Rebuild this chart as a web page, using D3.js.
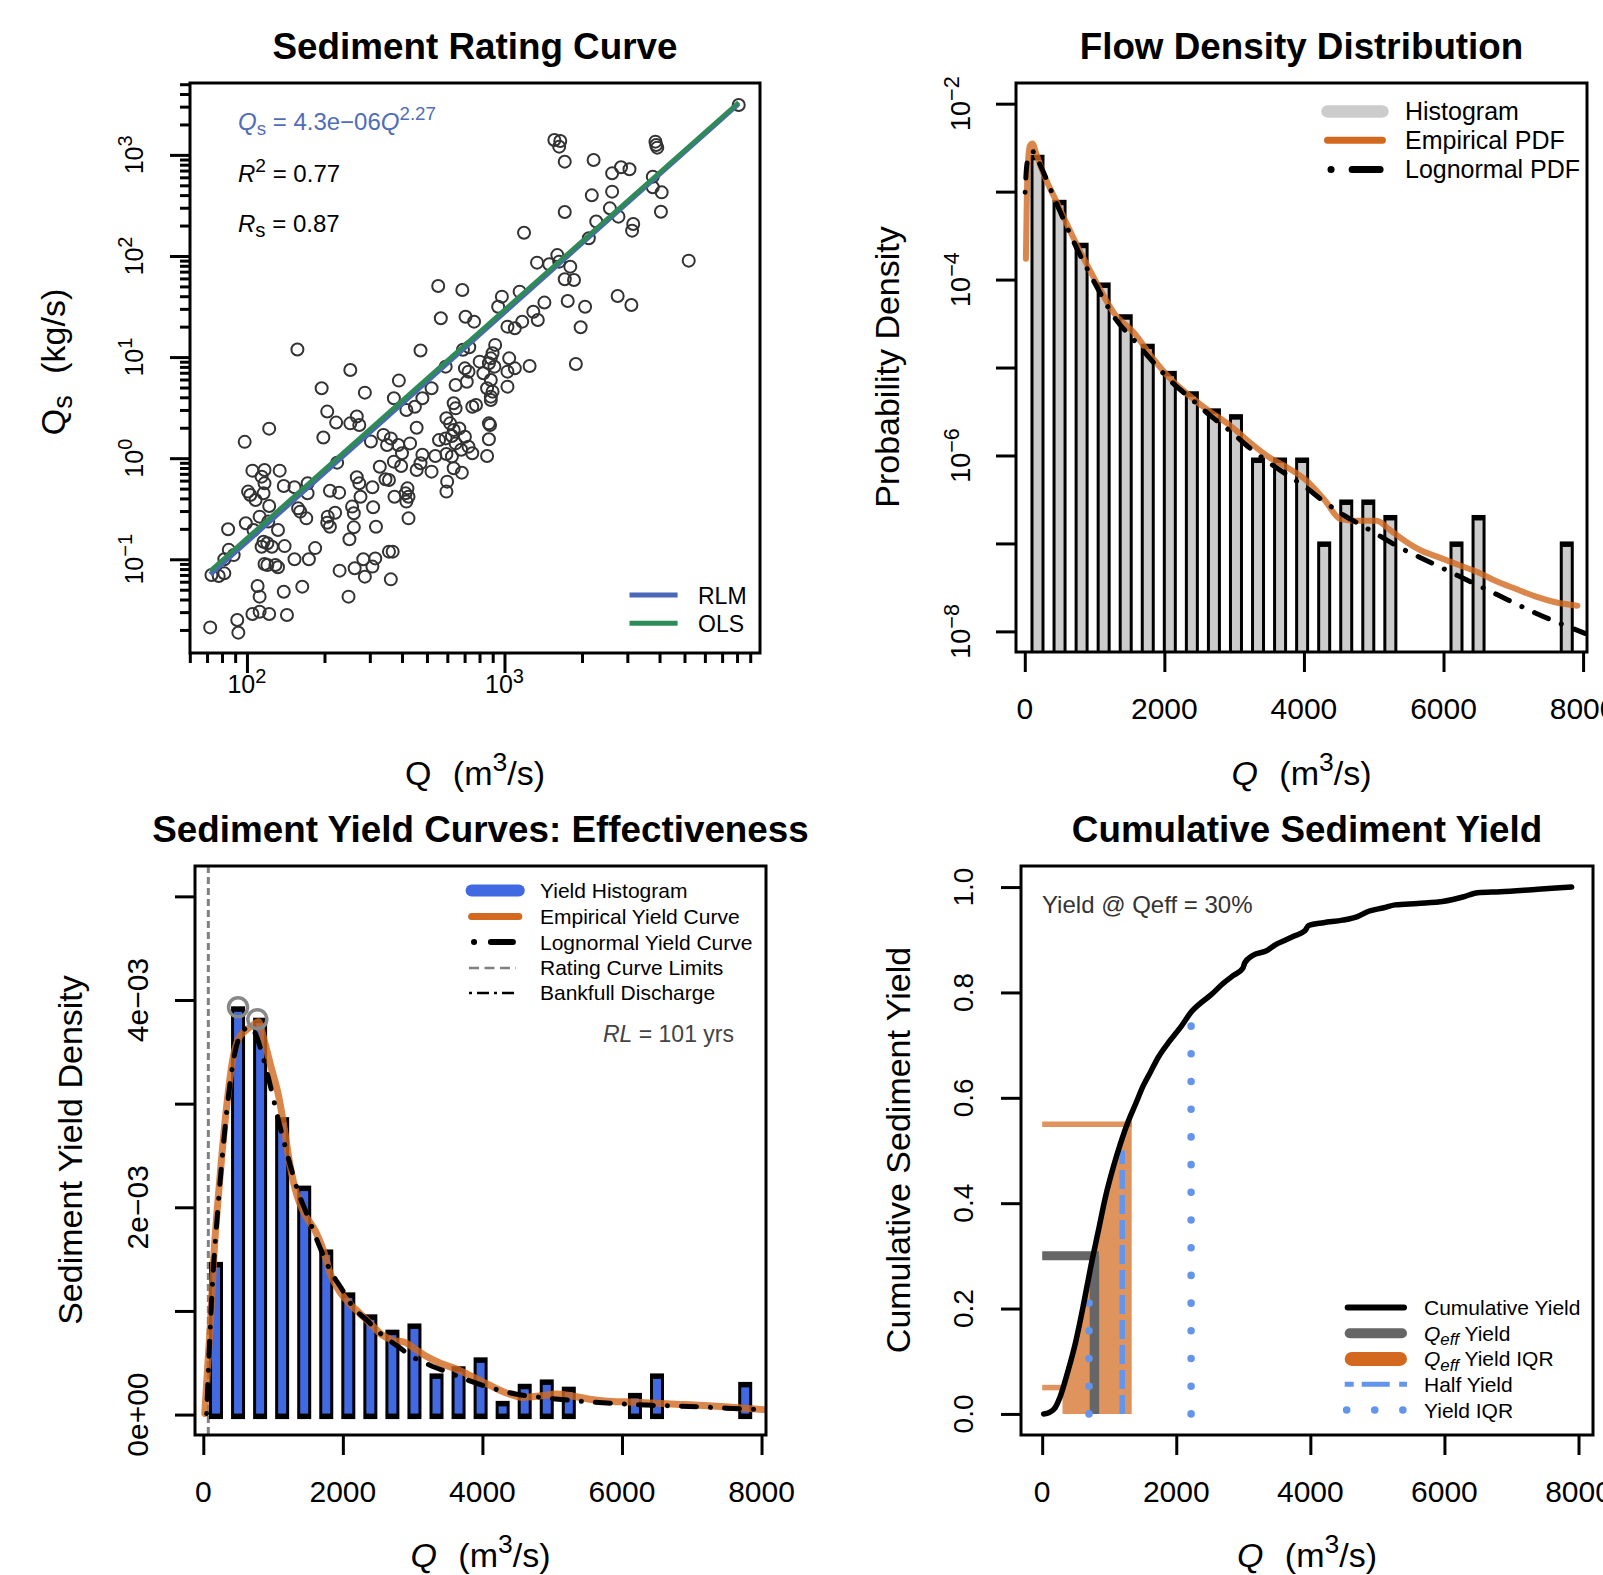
<!DOCTYPE html>
<html>
<head>
<meta charset="utf-8">
<script src="https://cdn.jsdelivr.net/npm/d3@7"></script>
<style>
  body { margin: 0; background: #fff; }
  svg { display: block; }
  svg text { font-family: "Liberation Sans", Arial, Helvetica, sans-serif; }
</style>
</head>
<body>
<svg id="chart" width="1603" height="1575"></svg>
<script>
// ---- rating curve observations [Q (m3/s), Qs (kg/s)] ----
const ratingObs = [
  [8120,3117],[1562,1404],[1647,1373],[1631,1206],[1714,857],[2219,890],[3856,1352],[3882,1253],[3920,1179],[2618,657],
  [2835,754],[3058,720],[3767,609],[3767,478],[4078,426],[2183,398],[2618,433],[1714,272],[2566,296],[2770,245],
  [4051,274],[2271,219],[3162,207],[3130,178],[1191,170],[2126,150],[5193,89.9],[1338,85.9],[1492,82.7],[1604,102],
  [1631,87.9],[1801,78.4],[1714,58.8],[1862,57.9],[553,50.5],[686,46.1],[977,39.6],[1145,44.4],[945,31.5],[1429,34.6],
  [1760,35.9],[2056,31.5],[2751,40.2],[3110,32.8],[566,24.2],[706,25.1],[762,22.4],[1294,28.1],[1347,23.3],[1027,20.0],
  [1097,19.3],[1172,22.4],[1976,19.7],
  [157,11.9],[472,11.6],[690,11.8],[730,12.5],[920,13.2],[899,10.9],[885,9.72],[1043,9.72],[1252,8.17],[1893,8.55],
  [252,7.46],[389,5.85],[591,8.04],[702,7.74],[725,7.18],[801,9.01],[870,8.68],[914,8.04],[1027,7.18],[1097,7.74],
  [1027,5.10],[646,5.30],[714,5.71],[828,6.91],[885,5.93],[856,4.91],[899,4.55],[885,4.06],[885,3.76],[195,4.91],
  [287,4.45],[372,3.91],[521,4.91],[480,3.91],[416,3.00],[449,3.23],[205,2.89],[222,2.25],[252,2.21],[267,2.58],
  [273,2.13],[122,1.96],[98.0,1.45],[198,1.60],[303,1.46],[339,1.70],[362,1.57],[350,1.35],[387,1.35],[430,1.40],
  [456,2.00],[400,1.12],[595,2.48],[635,3.49],[646,3.11],[750,3.23],[775,3.36],[615,2.21],[635,1.90],[668,1.97],
  [557,1.51],[591,1.57],[625,1.66],[646,1.40],[702,1.63],[725,1.30],[679,1.21],[750,1.12],[870,2.21],[879,2.13],
  [870,1.54],[856,1.05],[480,1.08],[539,1.05],[595,1.10],[625,1.04],[472,0.890],[456,0.764],[521,0.736],[635,0.794],
  [683,0.719],[224,0.903],[328,0.824],[372,0.924],[397,0.837],[105,0.753],[117,0.764],[134,0.753],[114,0.657],[117,0.564],
  [139,0.531],[153,0.515],[172,0.564],[116,0.449],[101,0.467],[103,0.433],[108,0.386],[122,0.337],[172,0.449],[158,0.319],
  [161,0.296],[170,0.254],[210,0.477],[228,0.456],[267,0.647],[273,0.564],[307,0.515],[276,0.416],[345,0.618],[356,0.609],
  [374,0.416],[413,0.449],[420,0.503],[424,0.416],[416,0.372],[599,0.586],[595,0.467],[256,0.332],[260,0.285],[309,0.327],
  [206,0.264],[220,0.289],[205,0.230],[210,0.210],[317,0.210],[260,0.207],[250,0.158],[424,0.254],[84.5,0.198],[99.0,0.227],
  [106,0.195],[112,0.264],[121,0.236],[132,0.195],[116,0.149],[120,0.144],[114,0.133],[125,0.133],[140,0.135],[184,0.129],
  [81.7,0.0999],[85.0,0.124],[88.8,0.110],[153,0.0999],[174,0.0999],[117,0.0898],[120,0.0878],[129,0.0878],[132,0.0833],[229,0.0772],
  [262,0.0814],[283,0.0999],[287,0.0673],[307,0.0846],[315,0.102],[356,0.119],[368,0.119],[362,0.0633],[72.8,0.0699],[77.7,0.0684],
  [81.7,0.0726],[110,0.0544],[112,0.0427],[139,0.0478],[164,0.0536],[248,0.0427],[72.0,0.0212],[91.7,0.0251],[92.6,0.0188],[105,0.0288],
  [112,0.0303],[122,0.0288],[143,0.0281]
];
const rlmCoef = [4.3e-6, 2.27];   // Qs = a * Q^b
const olsCoef = [4.92e-6, 2.258];
const fitStats = ["4.3e\u221206", "2.27", "0.77", "0.87"];

// ---- histogram bins shared by flow and yield panels ----
const binCenters = [182, 498, 814, 1130, 1446, 1762, 2078, 2394, 2710, 3026, 3342, 3658, 3974,
                    4290, 4606, 4922, 5238, 5554, 5870, 6186, 6502, 6818, 7134, 7450, 7766];
const flowDensity = [2.49e-3, 7.66e-4, 2.49e-4, 8.8e-5, 3.83e-5, 1.77e-5, 8.7e-6, 5.1e-6, 3.26e-6, 2.8e-6,
                     9.0e-7, 9.0e-7, 9.0e-7, 1.0e-7, 3.0e-7, 3.0e-7, 2.0e-7, 0, 0, 1.0e-7, 2.0e-7, 0, 0, 0, 1.0e-7];
const yieldDensity = [1.454e-3, 3.92e-3, 3.81e-3, 2.85e-3, 2.19e-3, 1.574e-3, 1.16e-3, 0.948e-3, 0.80e-3, 0.86e-3,
                      0.378e-3, 0.447e-3, 0.533e-3, 0.113e-3, 0.278e-3, 0.32e-3, 0.25e-3, 0, 0, 0.19e-3, 0.378e-3, 0, 0, 0, 0.296e-3];

// ---- flow pdf curves ----
const flowEmpQ = [16, 38, 71, 110, 164, 247, 466, 740, 1014, 1288, 1562, 1836, 2110, 2384, 2658, 2932, 3205, 3479,
                  3753, 4027, 4301, 4521, 4740, 5041, 5233, 5452, 5671, 5945, 6219, 6493, 6767, 7041, 7315, 7589, 7918];
const flowEmpPdf = [1.73e-4, 1.60e-3, 3.29e-3, 3.52e-3, 2.71e-3, 1.76e-3, 7.36e-4, 2.54e-4, 9.68e-5, 4.06e-5, 2.50e-5,
                    1.27e-5, 7.13e-6, 4.61e-6, 3.13e-6, 2.23e-6, 1.45e-6, 9.82e-7, 7.36e-7, 5.25e-7, 3.08e-7, 1.90e-7,
                    1.81e-7, 1.81e-7, 1.42e-7, 1.06e-7, 8.36e-8, 6.89e-8, 5.69e-8, 4.69e-8, 3.68e-8, 3.03e-8, 2.50e-8,
                    2.16e-8, 1.96e-8];
const flowLnQ = [5, 27, 71, 126, 192, 466, 740, 1014, 1288, 1562, 1836, 2110, 2384, 2658, 2932, 3205, 3479, 3753,
                 4027, 4301, 4575, 4849, 5123, 5397, 5671, 6219, 6767, 7315, 8027];
const flowLnPdf = [9.84e-4, 1.94e-3, 2.71e-3, 2.84e-3, 2.24e-3, 7.01e-4, 2.31e-4, 8.79e-5, 3.68e-5, 2.06e-5, 1.16e-5,
                   6.79e-6, 4.40e-6, 2.84e-6, 1.93e-6, 1.25e-6, 8.51e-7, 6.07e-7, 4.33e-7, 2.94e-7, 2.09e-7, 1.57e-7,
                   1.17e-7, 8.77e-8, 6.89e-8, 4.26e-8, 2.62e-8, 1.62e-8, 9.51e-9];

// ---- sediment yield curves ----
const yieldEmpQ = [21, 101, 154, 233, 339, 419, 498, 604, 710, 790, 869, 975, 1081, 1161, 1240, 1346, 1453, 1612,
                   1718, 1824, 1930, 2089, 2248, 2407, 2566, 2725, 2884, 3043, 3202, 3415, 3627, 3839, 4051, 4317,
                   4582, 4847, 5059, 5271, 5536, 5748, 6172, 6702, 7232, 7763, 8081];
const yieldEmp = [0.00001, 0.000869, 0.001557, 0.002244, 0.0030, 0.003412, 0.003619, 0.003704, 0.003756, 0.00379,
                  0.003619, 0.003344, 0.003069, 0.002759, 0.002416, 0.002107, 0.001935, 0.001763, 0.001591, 0.001351,
                  0.001213, 0.001076, 0.000973, 0.000869, 0.000766, 0.000715, 0.000698, 0.000629, 0.000560, 0.000491,
                  0.000440, 0.000371, 0.000302, 0.000216, 0.000165, 0.000182, 0.000199, 0.000182, 0.000148, 0.000131,
                  0.000120, 0.000103, 0.000086, 0.000062, 0.000045];
const yieldLnQ = [48, 127, 207, 286, 366, 445, 551, 657, 737, 843, 949, 1081, 1214, 1346, 1505, 1664, 1824, 1983,
                  2142, 2354, 2566, 2778, 2990, 3255, 3520, 3839, 4157, 4475, 4846, 5376, 5906, 6437, 6967, 7497, 8081];
const yieldLn = [0.00001, 0.001213, 0.001969, 0.002588, 0.003103, 0.003464, 0.003687, 0.003739, 0.003687, 0.003481,
                 0.003206, 0.002828, 0.002485, 0.002175, 0.001900, 0.001625, 0.001385, 0.001213, 0.001041, 0.000904,
                 0.000766, 0.000663, 0.000560, 0.000474, 0.000405, 0.000320, 0.000251, 0.000199, 0.000165, 0.000131,
                 0.000107, 0.000089, 0.000079, 0.000062, 0.000045];
const peakQ = [498, 774];
const peakYield = [3.93e-3, 3.815e-3];
const ratingLimits = [72, 8120];
const returnLevel = "101";

// ---- cumulative sediment yield ----
const cumQ = [22, 106, 191, 275, 387, 499, 611, 723, 835, 947, 1059, 1172, 1284, 1396, 1508, 1620, 1732, 1900, 2068,
              2237, 2349, 2517, 2685, 2853, 2993, 3021, 3133, 3358, 3470, 3638, 3750, 3918, 3974, 4198, 4479, 4703,
              4871, 5095, 5264, 5600, 5992, 6273, 6497, 6833, 7393, 7898];
const cumYield = [0, 0.0027, 0.0115, 0.0351, 0.0824, 0.1365, 0.2041, 0.2784, 0.3459, 0.4135, 0.4676, 0.5149, 0.5554,
                  0.5892, 0.6230, 0.6500, 0.6770, 0.7074, 0.7345, 0.7649, 0.7784, 0.7953, 0.8155, 0.8324, 0.8459,
                  0.8561, 0.8696, 0.8797, 0.8899, 0.9000, 0.9068, 0.9169, 0.9270, 0.9324, 0.9372, 0.9439, 0.9541,
                  0.9608, 0.9662, 0.9689, 0.9730, 0.9811, 0.9892, 0.9912, 0.9959, 1.0];
const qeff = 779;
const qeffYield = 0.30;
const qeffIqrQ = [303, 1335];
const qeffIqrYield = [0.05, 0.55];
const halfYieldQ = 1194;
const yieldIqrQ = [698, 2221];
const yieldIqrLevel = [0.25, 0.75];

// ================= drawing =================
const svg = d3.select("#chart");
svg.append("rect").attr("width", 1603).attr("height", 1575).attr("fill", "#fff");
const defs = svg.append("defs");

const ORANGE = "#D2691E", BLUE = "#4169E1", CBLUE = "#6495ED";

function rich(t, parts, fs, scale) {
  let shift = 0;
  parts.forEach(p => {
    const target = p.sup ? -0.42 * fs : p.sub ? 0.22 * fs : 0;
    const ts = t.append("tspan").text(p.t).attr("dy", target - shift);
    shift = target;
    if (p.sup || p.sub) ts.attr("font-size", scale * fs);
    if (p.italic) ts.attr("font-style", "italic");
    if (p.dx) ts.attr("dx", p.dx);
  });
}
function label(g, x, y, parts, fs, opts = {}) {
  const t = g.append("text").attr("x", x).attr("y", y).attr("font-size", fs)
    .attr("text-anchor", opts.anchor || "middle").attr("fill", opts.fill || "#000");
  if (opts.rotate) t.attr("transform", `rotate(-90,${x},${y})`);
  if (opts.bold) t.attr("font-weight", "bold");
  if (typeof parts === "string") parts = [{ t: parts }];
  rich(t, parts, fs, opts.scale || 0.72);
  return t;
}
function clipFor(id, b) {
  defs.append("clipPath").attr("id", id).append("rect")
    .attr("x", b.left).attr("y", b.top).attr("width", b.right - b.left).attr("height", b.bottom - b.top);
  return svg.append("g").attr("clip-path", `url(#${id})`);
}
function frame(b) {
  svg.append("rect").attr("x", b.left).attr("y", b.top).attr("width", b.right - b.left)
    .attr("height", b.bottom - b.top).attr("fill", "none").attr("stroke", "#000").attr("stroke-width", 3);
}
function styleAxis(a) {
  a.select(".domain").remove();
  a.selectAll("line").attr("stroke", "#000").attr("stroke-width", 3);
}
function xTicks(x, vals, y0, len) {
  svg.append("g").attr("transform", `translate(0,${y0})`)
    .call(d3.axisBottom(x).tickValues(vals).tickSize(len).tickFormat(""))
    .call(styleAxis);
}
function yTicks(y, vals, x0, len) {
  svg.append("g").attr("transform", `translate(${x0},0)`)
    .call(d3.axisLeft(y).tickValues(vals).tickSize(len).tickFormat(""))
    .call(styleAxis);
}
function legLine(x1, x2, y, stroke, w, dash, cap) {
  svg.append("line").attr("x1", x1).attr("x2", x2).attr("y1", y).attr("y2", y)
    .attr("stroke", stroke).attr("stroke-width", w)
    .attr("stroke-linecap", cap || "round").attr("stroke-dasharray", dash || null);
}
const qLab = italic => [{ t: "Q", italic: italic }, { t: " (m", dx: 12 }, { t: "3", sup: true }, { t: "/s)" }];
const TITLE = 36.8, AXT = 34, TICK = 30;

// ---------- panel 1: Sediment Rating Curve ----------
const b1 = { left: 190, right: 760, top: 83, bottom: 653 };
const x1 = d3.scaleLog().domain([60.1, 9822]).range([b1.left, b1.right]);
const y1 = d3.scaleLog().domain([0.01183, 5141]).range([b1.bottom, b1.top]);
const g1 = clipFor("c1", b1);

g1.selectAll("circle").data(ratingObs).join("circle")
  .attr("cx", d => x1(d[0])).attr("cy", d => y1(d[1])).attr("r", 6)
  .attr("fill", "none").attr("stroke", "#333").attr("stroke-width", 2);

const qRange = d3.extent(ratingObs, d => d[0]);
[[rlmCoef, "#4B68B8", 5], [olsCoef, "#2E8B57", 4.5]].forEach(([c, col, w]) => {
  g1.append("path")
    .attr("d", d3.line().x(d => x1(d)).y(d => y1(c[0] * Math.pow(d, c[1])))(qRange))
    .attr("stroke", col).attr("stroke-width", w).attr("fill", "none");
});

xTicks(x1, [100, 1000], b1.bottom, 20);
xTicks(x1, [60, 70, 80, 90, 200, 300, 400, 500, 600, 700, 800, 900, 2000, 3000, 4000, 5000, 6000, 7000, 8000, 9000], b1.bottom, 10);
yTicks(y1, [0.1, 1, 10, 100, 1000], b1.left, 20);
const y1minor = [];
[0.01, 0.1, 1, 10, 100, 1000].forEach(dec => [2, 3, 4, 5, 6, 7, 8, 9].forEach(m => {
  const v = dec * m; if (v > 0.01183 && v < 5141) y1minor.push(v);
}));
yTicks(y1, y1minor, b1.left, 10);
frame(b1);

[[100, "2"], [1000, "3"]].forEach(([v, e]) =>
  label(svg, x1(v), 693, [{ t: "10" }, { t: e, sup: true }], 25, { scale: 0.8 }));
[[0.1, "\u22121"], [1, "0"], [10, "1"], [100, "2"], [1000, "3"]].forEach(([v, e]) =>
  label(svg, 143, y1(v), [{ t: "10" }, { t: e, sup: true }], 25, { rotate: true, scale: 0.8 }));

label(svg, 475, 59, "Sediment Rating Curve", TITLE, { bold: true });
label(svg, 475, 785, qLab(false), AXT, { scale: 0.78 });
label(svg, 65, 362, [{ t: "Q" }, { t: "s", sub: true }, { t: " (kg/s)", dx: 12 }], AXT, { rotate: true, scale: 0.8 });

label(svg, 238, 130, [{ t: "Q", italic: true }, { t: "s", sub: true }, { t: " = " + fitStats[0] }, { t: "Q", italic: true },
  { t: fitStats[1], sup: true }], 24, { anchor: "start", fill: "#4F6DB8", scale: 0.78 });
label(svg, 238, 182, [{ t: "R", italic: true }, { t: "2", sup: true }, { t: " = " + fitStats[2] }], 24, { anchor: "start", scale: 0.8 });
label(svg, 238, 232, [{ t: "R", italic: true }, { t: "s", sub: true }, { t: " = " + fitStats[3] }], 24, { anchor: "start", scale: 0.85 });

legLine(629.5, 677.6, 595, "#4B68B8", 5, null, "butt");
legLine(629.5, 677.6, 623.3, "#2E8B57", 5, null, "butt");
label(svg, 698, 603.5, "RLM", 23, { anchor: "start" });
label(svg, 698, 631.8, "OLS", 23, { anchor: "start" });

// ---------- panel 2: Flow Density Distribution ----------
const b2 = { left: 1016, right: 1587, top: 83, bottom: 652 };
const x2 = d3.scaleLinear().domain([-126, 8056]).range([b2.left, b2.right]);
const y2 = d3.scaleLog().domain([5.83e-9, 0.01718]).range([b2.bottom, b2.top]);
const g2 = clipFor("c2", b2);
const bars2 = binCenters.map((c, i) => [c, flowDensity[i]]).filter(d => d[1] > 0);
g2.selectAll("rect.o").data(bars2).join("rect").attr("class", "o")
  .attr("x", d => x2(d[0]) - 7).attr("width", 14)
  .attr("y", d => y2(d[1]) - 2).attr("height", d => b2.bottom + 5 - y2(d[1]))
  .attr("fill", "#000");
g2.selectAll("rect.i").data(bars2).join("rect").attr("class", "i")
  .attr("x", d => x2(d[0]) - 4).attr("width", 8)
  .attr("y", d => y2(d[1]) + 3.5).attr("height", d => b2.bottom + 5 - y2(d[1]))
  .attr("fill", "#CCCCCC");
const line2 = d3.line().x(d => x2(d[0])).y(d => y2(d[1])).curve(d3.curveMonotoneX);
g2.append("path").attr("d", line2(flowEmpQ.map((q, i) => [q, flowEmpPdf[i]])))
  .attr("fill", "none").attr("stroke", ORANGE).attr("stroke-opacity", 0.8).attr("stroke-width", 6)
  .attr("stroke-linecap", "round").attr("stroke-linejoin", "round");
g2.append("path").attr("d", line2(flowLnQ.map((q, i) => [q, flowLnPdf[i]])))
  .attr("fill", "none").attr("stroke", "#000").attr("stroke-width", 5)
  .attr("stroke-dasharray", "0.1,14,15,14").attr("stroke-linecap", "round");

xTicks(x2, [0, 2000, 4000, 6000, 8000], b2.bottom, 20);
yTicks(y2, [1e-2, 1e-3, 1e-4, 1e-5, 1e-6, 1e-7, 1e-8], b2.left, 20);
frame(b2);
[0, 2000, 4000, 6000, 8000].forEach(v => label(svg, x2(v), 719, String(v), TICK));
[[1e-2, "\u22122"], [1e-4, "\u22124"], [1e-6, "\u22126"], [1e-8, "\u22128"]].forEach(([v, e]) =>
  label(svg, 970, y2(v), [{ t: "10" }, { t: e, sup: true }], 27, { rotate: true, scale: 0.8 }));
label(svg, 1301.5, 59, "Flow Density Distribution", TITLE, { bold: true });
label(svg, 1301.5, 785, qLab(true), AXT, { scale: 0.78 });
label(svg, 899, 367, "Probability Density", AXT, { rotate: true });

legLine(1327.5, 1382.4, 111.4, "#CCCCCC", 12.5);
legLine(1327.5, 1382.4, 140.3, ORANGE, 7);
legLine(1331, 1382, 169.5, "#000", 7, "0.1,21,28,21");
label(svg, 1405, 120, "Histogram", 25, { anchor: "start" });
label(svg, 1405, 149, "Empirical PDF", 25, { anchor: "start" });
label(svg, 1405, 178, "Lognormal PDF", 25, { anchor: "start" });

// ---------- panel 3: Sediment Yield Curves ----------
const b3 = { left: 195, right: 766, top: 866, bottom: 1435 };
const x3 = d3.scaleLinear().domain([-119, 8064]).range([b3.left, b3.right]);
const y3 = d3.scaleLinear().domain([-0.000197, 0.005293]).range([b3.bottom, b3.top]);
const g3 = clipFor("c3", b3);
ratingLimits.forEach(q => g3.append("line").attr("x1", x3(q)).attr("x2", x3(q))
  .attr("y1", b3.top).attr("y2", b3.bottom).attr("stroke", "#808080").attr("stroke-width", 3)
  .attr("stroke-dasharray", "7,4"));
const bars3 = binCenters.map((c, i) => [c, yieldDensity[i]]).filter(d => d[1] > 0);
g3.selectAll("rect.o").data(bars3).join("rect").attr("class", "o")
  .attr("x", d => x3(d[0]) - 7).attr("width", 14)
  .attr("y", d => y3(d[1]) - 2).attr("height", d => y3(0) + 4.5 - (y3(d[1]) - 2))
  .attr("fill", "#000");
g3.selectAll("rect.i").data(bars3).join("rect").attr("class", "i")
  .attr("x", d => x3(d[0]) - 4).attr("width", 8)
  .attr("y", d => y3(d[1]) + 3.5).attr("height", d => Math.max(0, y3(0) - 1 - (y3(d[1]) + 3.5)))
  .attr("fill", BLUE);
const line3 = d3.line().x(d => x3(d[0])).y(d => y3(d[1])).curve(d3.curveMonotoneX);
g3.append("path").attr("d", line3(yieldEmpQ.map((q, i) => [q, yieldEmp[i]])))
  .attr("fill", "none").attr("stroke", ORANGE).attr("stroke-opacity", 0.8).attr("stroke-width", 7)
  .attr("stroke-linecap", "round").attr("stroke-linejoin", "round");
g3.append("path").attr("d", line3(yieldLnQ.map((q, i) => [q, yieldLn[i]])))
  .attr("fill", "none").attr("stroke", "#000").attr("stroke-width", 5)
  .attr("stroke-dasharray", "0.1,14,15,14").attr("stroke-linecap", "round");
g3.selectAll("circle").data(peakQ.map((q, i) => [q, peakYield[i]])).join("circle")
  .attr("cx", d => x3(d[0])).attr("cy", d => y3(d[1])).attr("r", 9.5)
  .attr("fill", "none").attr("stroke", "#888").attr("stroke-width", 3.5);

xTicks(x3, [0, 2000, 4000, 6000, 8000], b3.bottom, 20);
yTicks(y3, [0, 0.001, 0.002, 0.003, 0.004, 0.005], b3.left, 20);
frame(b3);
[0, 2000, 4000, 6000, 8000].forEach(v => label(svg, x3(v), 1502, String(v), TICK));
[[0, "0e+00"], [0.002, "2e\u221203"], [0.004, "4e\u221203"]].forEach(([v, s]) =>
  label(svg, 148, y3(v), s, 30, { rotate: true }));
label(svg, 480.5, 842, "Sediment Yield Curves: Effectiveness", TITLE, { bold: true });
label(svg, 480.5, 1567, qLab(true), AXT, { scale: 0.78 });
label(svg, 82, 1150, "Sediment Yield Density", AXT, { rotate: true });

const leg3 = [890.4, 916.4, 942.1, 967.9, 992.9];
legLine(471.6, 518.8, leg3[0], BLUE, 12);
legLine(471.6, 518.8, leg3[1], ORANGE, 7);
legLine(474, 516, leg3[2], "#000", 6, "0.1,16.8,22,16.8");
legLine(469, 516, leg3[3], "#808080", 2.5, "10,5.5", "butt");
legLine(469, 519, leg3[4], "#000", 2.5, "3,5,12,5", "butt");
["Yield Histogram", "Empirical Yield Curve", "Lognormal Yield Curve", "Rating Curve Limits", "Bankfull Discharge"]
  .forEach((s, i) => label(svg, 540, leg3[i] + 7.5, s, 21, { anchor: "start" }));
label(svg, 734, 1042, [{ t: "RL", italic: true }, { t: " = " + returnLevel + " yrs" }], 23, { anchor: "end", fill: "#444" });

// ---------- panel 4: Cumulative Sediment Yield ----------
const b4 = { left: 1021, right: 1593, top: 866, bottom: 1435 };
const x4 = d3.scaleLinear().domain([-316, 8216]).range([b4.left, b4.right]);
const y4 = d3.scaleLinear().domain([-0.04, 1.04]).range([b4.bottom, b4.top]);
const g4 = clipFor("c4", b4);
const cumPts = cumQ.map((q, i) => [q, cumYield[i]]);
const bis = d3.bisector(d => d[0]).left;
function cumAt(q) {
  const i = Math.max(1, Math.min(cumPts.length - 1, bis(cumPts, q)));
  const a = cumPts[i - 1], b = cumPts[i];
  return a[1] + (b[1] - a[1]) * (q - a[0]) / (b[0] - a[0]);
}
const iqrPts = [[qeffIqrQ[0], cumAt(qeffIqrQ[0])]]
  .concat(cumPts.filter(d => d[0] > qeffIqrQ[0] && d[0] < qeffIqrQ[1]))
  .concat([[qeffIqrQ[1], cumAt(qeffIqrQ[1])]]);
g4.append("path").attr("d", d3.area().x(d => x4(d[0])).y0(y4(0)).y1(d => y4(d[1]))(iqrPts))
  .attr("fill", ORANGE).attr("fill-opacity", 0.72);
qeffIqrYield.forEach((yv, i) => g4.append("line")
  .attr("x1", x4(0)).attr("x2", x4(qeffIqrQ[i])).attr("y1", y4(yv)).attr("y2", y4(yv))
  .attr("stroke", ORANGE).attr("stroke-opacity", 0.72).attr("stroke-width", 5.5));
g4.append("line").attr("x1", x4(0)).attr("x2", x4(qeff) + 4.5).attr("y1", y4(qeffYield)).attr("y2", y4(qeffYield))
  .attr("stroke", "#666").attr("stroke-width", 9);
g4.append("line").attr("x1", x4(qeff)).attr("x2", x4(qeff)).attr("y1", y4(qeffYield)).attr("y2", y4(0))
  .attr("stroke", "#666").attr("stroke-width", 9.5);
g4.append("line").attr("x1", x4(halfYieldQ)).attr("x2", x4(halfYieldQ)).attr("y1", y4(0)).attr("y2", y4(0.5))
  .attr("stroke", CBLUE).attr("stroke-width", 5.5).attr("stroke-dasharray", "19,6");
yieldIqrQ.forEach((q, i) => g4.append("line").attr("x1", x4(q)).attr("x2", x4(q))
  .attr("y1", y4(0)).attr("y2", y4(yieldIqrLevel[i]))
  .attr("stroke", CBLUE).attr("stroke-width", 7.5).attr("stroke-linecap", "round").attr("stroke-dasharray", "0.1,27.6"));
g4.append("path").attr("d", d3.line().x(d => x4(d[0])).y(d => y4(d[1])).curve(d3.curveMonotoneX)(cumPts))
  .attr("fill", "none").attr("stroke", "#000").attr("stroke-width", 5.5)
  .attr("stroke-linecap", "round").attr("stroke-linejoin", "round");

xTicks(x4, [0, 2000, 4000, 6000, 8000], b4.bottom, 20);
yTicks(y4, [0, 0.2, 0.4, 0.6, 0.8, 1.0], b4.left, 20);
frame(b4);
[0, 2000, 4000, 6000, 8000].forEach(v => label(svg, x4(v), 1502, String(v), TICK));
[0, 0.2, 0.4, 0.6, 0.8, 1.0].forEach(v => label(svg, 973, y4(v), v.toFixed(1), 28, { rotate: true }));
label(svg, 1307, 842, "Cumulative Sediment Yield", TITLE, { bold: true });
label(svg, 1307, 1567, qLab(true), AXT, { scale: 0.78 });
label(svg, 910, 1150, "Cumulative Sediment Yield", AXT, { rotate: true });
label(svg, 1042, 913, "Yield @ Qeff = " + Math.round(qeffYield * 100) + "%", 24, { anchor: "start", fill: "#333" });

const leg4 = [1307.5, 1333.2, 1358.9, 1384.3, 1410];
legLine(1347.7, 1404, leg4[0], "#000", 6);
legLine(1349.7, 1402, leg4[1], "#666", 10);
legLine(1351.7, 1400, leg4[2], ORANGE, 14);
legLine(1344.7, 1407, leg4[3], CBLUE, 5, "9,8,28,9.5,8", "butt");
legLine(1346.6, 1404, leg4[4], CBLUE, 7.5, "0.1,28");
label(svg, 1424, leg4[0] + 7.5, "Cumulative Yield", 21, { anchor: "start" });
label(svg, 1424, leg4[1] + 7.5, [{ t: "Q", italic: true }, { t: "eff", sub: true, italic: true }, { t: " Yield" }], 21, { anchor: "start", scale: 0.8 });
label(svg, 1424, leg4[2] + 7.5, [{ t: "Q", italic: true }, { t: "eff", sub: true, italic: true }, { t: " Yield IQR" }], 21, { anchor: "start", scale: 0.8 });
label(svg, 1424, leg4[3] + 7.5, "Half Yield", 21, { anchor: "start" });
label(svg, 1424, leg4[4] + 7.5, "Yield IQR", 21, { anchor: "start" });
</script>
</body>
</html>
